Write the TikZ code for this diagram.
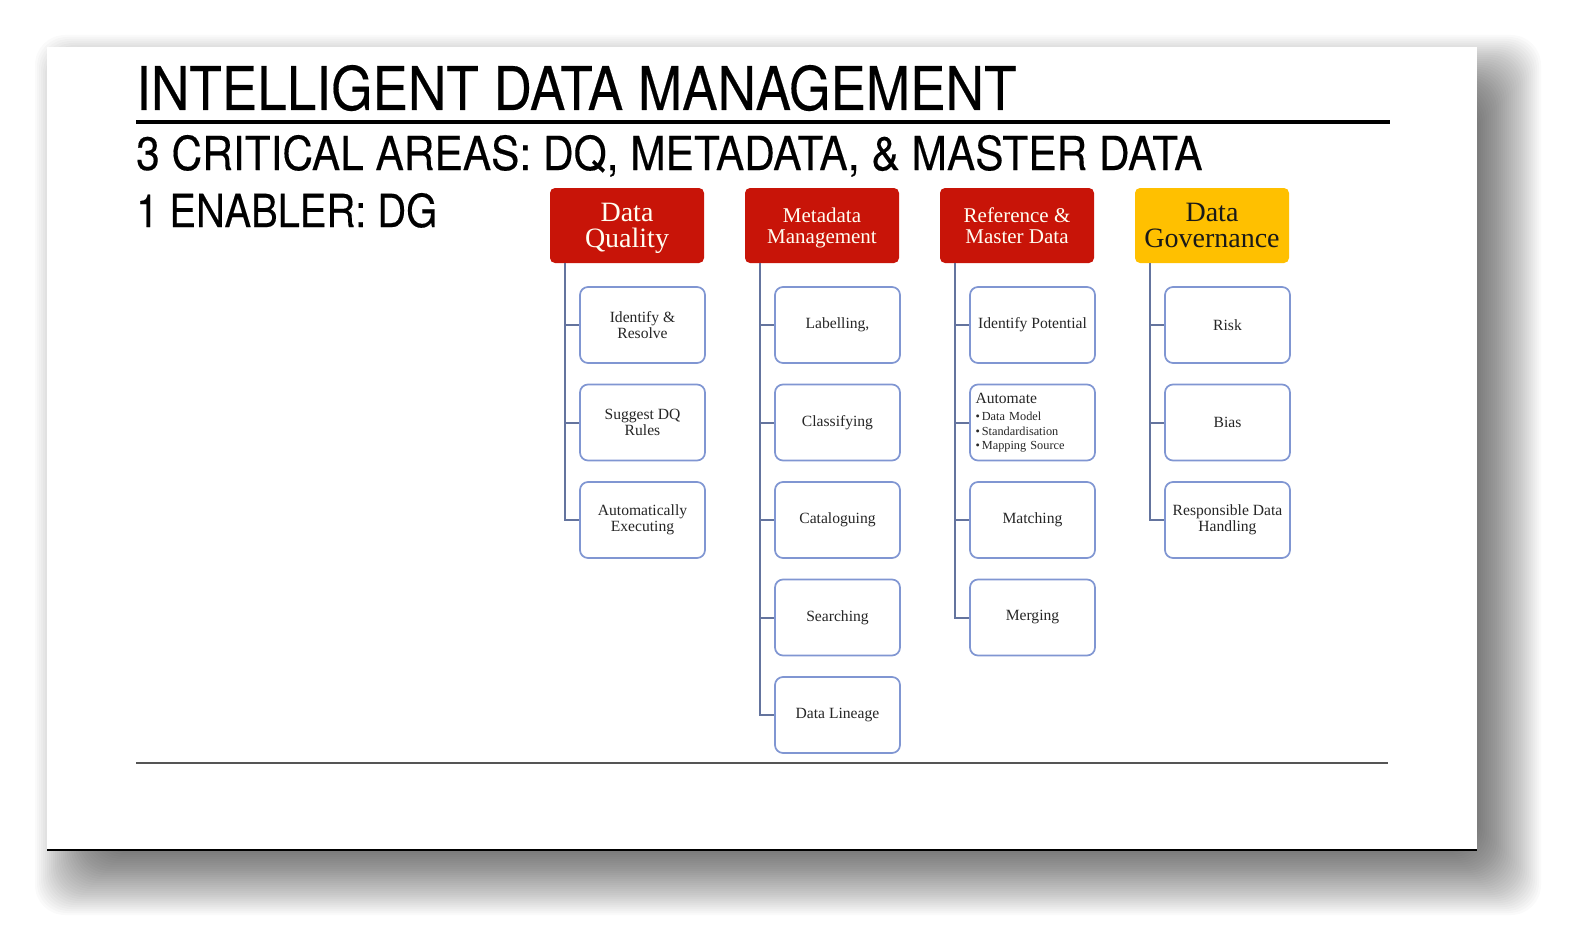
\documentclass[tikz,border=0pt]{standalone}
\usepackage{fontspec}
\usepackage{graphicx}
\setmainfont{Liberation Serif}
\newfontfamily\headfont[FakeBold=0.3]{TeX Gyre Heros}
\definecolor{hdrred}{RGB}{200,20,8}
\definecolor{hdrgold}{RGB}{255,192,0}
\definecolor{connblue}{RGB}{100,116,158}
\definecolor{childblue}{RGB}{128,150,210}
\definecolor{rulegray}{RGB}{85,85,85}
\begin{document}
\begin{tikzpicture}[x=1pt,y=-1pt,
  hdr/.style={rounded corners=5pt, minimum width=154pt, minimum height=75pt,
    inner sep=0pt, align=center, fill=hdrred, text=white!95!yellow},
  bigfont/.style={font=\fontsize{28}{26}\selectfont},
  midfont/.style={font=\fontsize{21}{20.5}\selectfont},
  child/.style={draw=childblue, line width=1.7pt, rounded corners=8pt, fill=white,
    minimum width=125pt, minimum height=76pt, inner sep=2pt, align=center,
    text=black!85, font=\fontsize{15.6}{15.5}\selectfont},
  conn/.style={draw=connblue, line width=2pt}
]
\useasboundingbox (0,0) rectangle (1572,947);
\fill[white] (0,0) rectangle (1572,947);
% shadow
\foreach \e in {-38,-36,...,38}
  \fill[black, opacity=0.018, rounded corners=30pt]
    (73-\e,73-\e) rectangle (1503+\e,877+\e);
% slide
\fill[white] (47,47) rectangle (1477,851);
\draw[black, line width=2pt] (47,850) -- (1477,850);

% titles
\node[anchor=base west, inner sep=0pt] (title) at (136,110)
  {\resizebox{880pt}{45pt}{\headfont INTELLIGENT DATA MANAGEMENT}};
\draw[black, line width=4.5pt] (136,122) -- (1390,122);
\node[anchor=base west, inner sep=0pt] (sub) at (136,170)
  {\resizebox{1066pt}{35pt}{\headfont 3 CRITICAL AREAS: DQ, METADATA, \& MASTER DATA}};
\node[anchor=base west, inner sep=0pt] (enab) at (136,227)
  {\resizebox{301pt}{34pt}{\headfont 1 ENABLER: DG}};
\draw[rulegray, line width=2.5pt] (136,763) -- (1388,763);

% headers
\node[hdr, bigfont, text depth=0pt] (hdq) at (627,225.5) {Data\\Quality};
\node[hdr, midfont, text depth=0pt] (hmm) at (822,225.5) {Metadata\\Management};
\node[hdr, midfont] (hrm) at (1017,225.5) {Reference \&\\Master Data};
\node[hdr, bigfont, fill=hdrgold, text=black!90] (hdg) at (1212,225.5) {Data\\Governance};

% children
\node[child] (d1) at (642.5,325) {Identify \&\\Resolve};
\node[child] (d2) at (642.5,422.5) {Suggest DQ\\Rules};
\node[child] (d3) at (642.5,520) {Automatically\\Executing};

\node[child] (m1) at (837.5,325) {Labelling,};
\node[child] (m2) at (837.5,422.5) {Classifying};
\node[child] (m3) at (837.5,520) {Cataloguing};
\node[child] (m4) at (837.5,617.5) {Searching};
\node[child] (m5) at (837.5,715) {Data Lineage};

\node[child] (r1) at (1032.5,325) {Identify Potential};
\node[child, text width=114pt, align=left, font=\fontsize{12.3}{14.5}\selectfont] (r2) at (1032.5,422.5)
  {{\fontsize{15.6}{15.5}\selectfont Automate}\\[3pt]
   \textbullet\,Data Model\\
   \textbullet\,Standardisation\\
   \textbullet\,Mapping Source};
\node[child] (r3) at (1032.5,520) {Matching};
\node[child] (r4) at (1032.5,617.5) {Merging};

\node[child] (g1) at (1227.5,325) {Risk};
\node[child] (g2) at (1227.5,422.5) {Bias};
\node[child] (g3) at (1227.5,520) {Responsible Data\\Handling};

% connectors
\foreach \c in {d1,d2,d3}
  \draw[conn] ([xshift=15pt]hdq.south west) |- (\c.west);
\foreach \c in {m1,m2,m3,m4,m5}
  \draw[conn] ([xshift=15pt]hmm.south west) |- (\c.west);
\foreach \c in {r1,r2,r3,r4}
  \draw[conn] ([xshift=15pt]hrm.south west) |- (\c.west);
\foreach \c in {g1,g2,g3}
  \draw[conn] ([xshift=15pt]hdg.south west) |- (\c.west);
\end{tikzpicture}
\end{document}
